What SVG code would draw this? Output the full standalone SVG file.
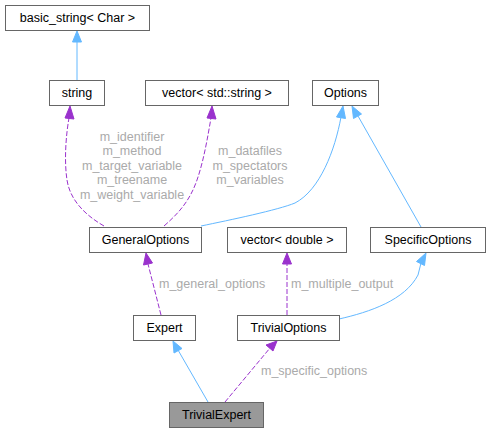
<svg xmlns="http://www.w3.org/2000/svg" width="491" height="433" viewBox="0 0 491 433">
<style>
.node rect{fill:#fff;stroke:#666;stroke-width:1}
.node text{font-family:"Liberation Sans",Arial,sans-serif;font-size:12.5px;fill:#000;text-anchor:middle}
.inh{fill:none;stroke:#63b8ff;stroke-width:1}
.use{fill:none;stroke:#9a32cd;stroke-width:1;stroke-dasharray:5,2}
.lbl{font-family:"Liberation Sans",Arial,sans-serif;font-size:12.5px;fill:#aaaaaa}
.ahb{fill:#63b8ff;stroke:#63b8ff}
.ahp{fill:#9a32cd;stroke:#9a32cd}
</style>
<rect width="491" height="433" fill="#fff"/>
<g id="connectors">
<path class="inh" d="M77,80 V42"/>
<polygon class="ahb" points="77,31 72.5,42 81.5,42"/>
<path class="use" d="M104,226 C85,215 70,200 67,180 C64,160 66,135 69,118"/>
<polygon class="ahp" points="70,106 65,118 74,119"/>
<path class="use" d="M164,226 C180,212 190,200 197,180 C204,160 208,135 211,118"/>
<polygon class="ahp" points="212,106 207,118 216,119"/>
<path class="inh" d="M201,226 C230,220 278,210 295,203 C320,190 335,150 341,117"/>
<polygon class="ahb" points="343,106 336.5,117 345.5,118.5"/>
<path class="inh" d="M421,227 L358,116"/>
<polygon class="ahb" points="352,106 353.5,118.5 361.5,114"/>
<path class="use" d="M161,315 L148,264"/>
<polygon class="ahp" points="146,253 143.5,265 152.5,263"/>
<path class="use" d="M287,315 V264"/>
<polygon class="ahp" points="287,253 282.5,264 291.5,264"/>
<path class="inh" d="M339,319 C370,312 405,300 418,275 L421,263"/>
<polygon class="ahb" points="426,253 416.5,261.5 424.5,265.5"/>
<path class="inh" d="M208,402 L178,350"/>
<polygon class="ahb" points="173,341 174,353 182,348.5"/>
<path class="use" d="M225,402 L270,348"/>
<polygon class="ahp" points="277,341 266,345 273,351"/>
<text class="lbl" text-anchor="middle" x="132" y="140.5">m_identifier</text>
<text class="lbl" text-anchor="middle" x="132" y="155">m_method</text>
<text class="lbl" text-anchor="middle" x="132" y="169.5">m_target_variable</text>
<text class="lbl" text-anchor="middle" x="132" y="184">m_treename</text>
<text class="lbl" text-anchor="middle" x="132" y="198.5">m_weight_variable</text>
<text class="lbl" text-anchor="middle" x="250" y="155">m_datafiles</text>
<text class="lbl" text-anchor="middle" x="250" y="169.5">m_spectators</text>
<text class="lbl" text-anchor="middle" x="250" y="184">m_variables</text>
<text class="lbl" x="159" y="287.5">m_general_options</text>
<text class="lbl" x="291" y="287.5">m_multiple_output</text>
<text class="lbl" x="261" y="374.5">m_specific_options</text>
</g>
<g id="basic_string" class="node"><rect x="5.5" y="5.5" width="144" height="25"/><text x="77.5" y="22">basic_string&lt; Char &gt;</text></g>
<g id="string" class="node"><rect x="49.5" y="80.5" width="55" height="25"/><text x="77" y="97">string</text></g>
<g id="vector_string" class="node"><rect x="145.5" y="80.5" width="143" height="25"/><text x="217" y="97">vector&lt; std::string &gt;</text></g>
<g id="Options" class="node"><rect x="312.5" y="80.5" width="66" height="25"/><text x="345.5" y="97">Options</text></g>
<g id="GeneralOptions" class="node"><rect x="89.5" y="227.5" width="112" height="25"/><text x="145.5" y="244">GeneralOptions</text></g>
<g id="vector_double" class="node"><rect x="227.5" y="227.5" width="119" height="25"/><text x="287" y="244">vector&lt; double &gt;</text></g>
<g id="SpecificOptions" class="node"><rect x="370.5" y="227.5" width="115" height="25"/><text x="428" y="244">SpecificOptions</text></g>
<g id="Expert" class="node"><rect x="133.5" y="315.5" width="62" height="25"/><text x="164.5" y="332">Expert</text></g>
<g id="TrivialOptions" class="node"><rect x="237.5" y="315.5" width="102" height="25"/><text x="288.5" y="332">TrivialOptions</text></g>
<g id="TrivialExpert" class="node"><rect x="169.5" y="402.5" width="94" height="25" style="fill:#999999"/><text x="216.5" y="419">TrivialExpert</text></g>
</svg>
